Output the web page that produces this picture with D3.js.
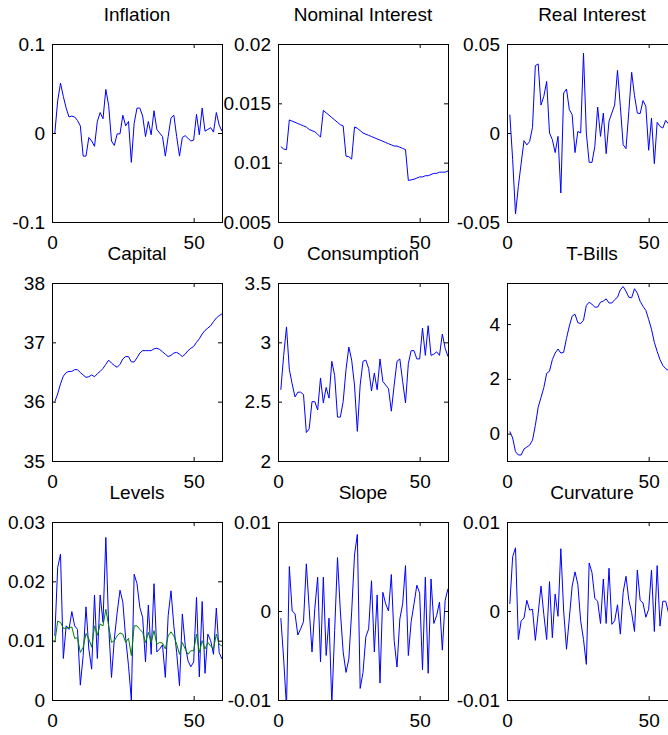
<!DOCTYPE html>
<html>
<head>
<meta charset="utf-8">
<script src="https://cdn.jsdelivr.net/npm/d3@7"></script>
<style>
body { margin: 0; background: #fff; }
</style>
</head>
<body>
<div id="chart"></div>
<script>
// time index shared by every panel
const t = d3.range(1, 61)
const xlim = [0, 60]
const xticks = [0, 50]

const inflation = [0, 0.036, 0.056, 0.041, 0.028, 0.018, 0.019, 0.018, 0.014, 0.008, -0.026, -0.026, -0.005, -0.009, -0.015, 0.013, 0.023, 0.016, 0.049, 0.031, -0.009, -0.014, -0.001, -0.001, 0.020, 0.008, 0.013, -0.033, 0.011, 0.028, 0.028, 0.019, -0.004, 0.013, -0.002, 0.025, 0.004, 0.000, -0.004, -0.026, -0.004, 0.017, 0.020, -0.004, -0.026, -0.005, -0.003, -0.006, -0.009, -0.008, 0.021, -0.002, 0.028, 0.002, 0.004, 0.006, 0.001, 0.023, 0.009, 0.002]
const nominal = [0.01135, 0.01115, 0.0111, 0.0136, 0.0135, 0.0134, 0.0133, 0.0132, 0.0131, 0.0130, 0.0128, 0.0127, 0.0126, 0.0124, 0.01215, 0.0144, 0.0142, 0.0140, 0.0138, 0.0136, 0.0134, 0.0132, 0.0131, 0.01055, 0.0105, 0.0103, 0.0130, 0.0129, 0.0127, 0.0125, 0.0124, 0.0123, 0.0122, 0.0121, 0.0120, 0.0119, 0.0118, 0.0117, 0.0116, 0.0115, 0.0114, 0.0114, 0.0113, 0.0112, 0.0111, 0.0085, 0.00855, 0.0086, 0.0087, 0.0088, 0.0088, 0.0089, 0.0089, 0.0090, 0.0091, 0.0091, 0.0092, 0.0092, 0.0092, 0.0093]
const realInterest = [0.0103, -0.015, -0.0455, -0.030, -0.017, -0.0043, -0.0067, -0.0047, 0.0032, 0.0378, 0.0388, 0.0157, 0.0206, 0.029, 0.000, -0.0037, -0.011, -0.0019, -0.0337, 0.0225, 0.0247, 0.0131, 0.0103, -0.011, 0.0009, 0.000, 0.0449, 0.000, -0.0165, -0.0165, -0.0075, 0.0146, -0.0019, 0.0112, -0.0116, 0.0066, 0.0112, 0.0157, 0.0352, 0.015, -0.0066, -0.0088, 0.0122, 0.0341, 0.021, 0.0112, 0.0109, 0.0182, 0.015, -0.0097, 0.0084, -0.0172, 0.006, 0.0037, 0.0028, 0.0071, 0.005, 0.002, 0.006, 0.004]
const capital = [36.0, 36.13, 36.30, 36.43, 36.49, 36.51, 36.51, 36.54, 36.54, 36.49, 36.45, 36.41, 36.42, 36.45, 36.42, 36.47, 36.51, 36.56, 36.63, 36.70, 36.65, 36.61, 36.58, 36.63, 36.72, 36.76, 36.76, 36.67, 36.67, 36.74, 36.82, 36.86, 36.86, 36.86, 36.86, 36.89, 36.90, 36.88, 36.84, 36.80, 36.76, 36.78, 36.82, 36.83, 36.80, 36.76, 36.80, 36.86, 36.90, 36.93, 37.00, 37.06, 37.14, 37.20, 37.24, 37.28, 37.35, 37.41, 37.45, 37.48]
const consumption = [2.60, 2.89, 3.13, 2.77, 2.65, 2.54, 2.58, 2.58, 2.56, 2.24, 2.27, 2.50, 2.50, 2.43, 2.70, 2.49, 2.62, 2.53, 2.84, 2.72, 2.37, 2.37, 2.50, 2.77, 2.96, 2.85, 2.64, 2.25, 2.64, 2.84, 2.85, 2.78, 2.59, 2.74, 2.60, 2.86, 2.67, 2.64, 2.61, 2.42, 2.64, 2.84, 2.86, 2.67, 2.49, 2.82, 2.93, 2.93, 2.86, 2.86, 3.12, 2.89, 3.14, 2.89, 2.90, 2.92, 2.89, 3.07, 2.95, 2.88]
const tbills = [0.08, -0.16, -0.66, -0.78, -0.78, -0.56, -0.49, -0.42, -0.24, 0.30, 0.96, 1.32, 1.68, 2.20, 2.28, 2.70, 2.94, 3.09, 2.94, 2.97, 3.48, 3.93, 4.29, 4.36, 4.05, 4.02, 4.14, 4.68, 4.80, 4.72, 4.62, 4.62, 4.80, 4.84, 4.92, 4.77, 4.77, 4.89, 4.98, 5.25, 5.37, 5.20, 4.98, 4.96, 5.29, 5.13, 4.83, 4.65, 4.50, 4.17, 3.81, 3.33, 3.00, 2.70, 2.49, 2.37, 2.31, 2.1, 1.9, 1.7]
const levels = [0.0108, 0.0223, 0.0246, 0.0070, 0.0125, 0.0119, 0.0149, 0.0125, 0.0119, 0.0025, 0.0075, 0.0157, 0.0086, 0.0052, 0.0177, 0.0070, 0.0177, 0.0131, 0.0274, 0.0125, 0.0038, 0.0103, 0.0147, 0.0185, 0.0165, 0.0104, 0.0058, 0.0000, 0.0212, 0.0196, 0.0156, 0.0139, 0.0064, 0.0160, 0.0077, 0.0196, 0.0081, 0.0086, 0.0093, 0.0038, 0.0142, 0.0184, 0.0125, 0.0080, 0.0024, 0.0145, 0.0093, 0.0066, 0.0056, 0.0064, 0.0173, 0.0039, 0.0166, 0.0045, 0.0111, 0.0100, 0.0077, 0.0155, 0.0080, 0.0069]
const levelsSmooth = [0.0097, 0.0133, 0.0131, 0.0121, 0.0121, 0.0122, 0.0123, 0.0104, 0.0105, 0.0080, 0.0089, 0.0112, 0.0103, 0.0089, 0.0125, 0.0109, 0.0128, 0.0125, 0.0153, 0.0125, 0.0097, 0.0100, 0.0108, 0.0113, 0.0111, 0.0097, 0.0104, 0.0075, 0.0125, 0.0125, 0.0119, 0.0114, 0.0097, 0.0114, 0.0097, 0.0117, 0.0094, 0.0097, 0.0096, 0.0086, 0.0108, 0.0115, 0.0108, 0.0094, 0.0077, 0.0097, 0.0086, 0.0077, 0.0083, 0.0083, 0.0111, 0.0080, 0.0100, 0.0086, 0.0097, 0.0091, 0.0086, 0.0111, 0.0094, 0.0091]
const slope = [-0.0008, -0.0054, -0.0108, 0.0050, 0.0000, -0.0003, -0.0027, -0.0020, -0.0012, 0.0053, 0.0003, -0.0046, 0.0003, 0.0038, -0.0057, 0.0038, -0.0050, -0.0008, -0.0105, -0.0022, 0.0060, 0.0000, -0.0046, -0.0069, -0.0054, -0.0001, 0.0063, 0.0086, -0.0087, -0.0069, -0.0029, -0.0020, 0.0034, -0.0046, 0.0018, -0.0081, 0.0021, 0.0008, 0.0000, 0.0041, -0.0033, -0.0063, -0.0009, 0.0008, 0.0051, -0.0050, -0.0012, 0.0008, 0.0029, 0.0020, -0.0066, 0.0038, -0.0070, 0.0036, -0.0014, -0.0005, 0.0010, -0.0044, 0.0012, 0.0025]
const curvature = [0.0008, 0.0061, 0.0071, -0.0032, -0.0011, -0.0008, 0.0012, 0.0001, 0.0002, -0.0033, -0.0003, 0.0028, -0.0004, -0.0032, 0.0033, -0.0030, 0.0019, -0.0006, 0.0070, 0.0000, -0.0043, -0.0008, 0.0028, 0.0044, 0.0030, -0.0011, -0.0032, -0.0060, 0.0054, 0.0043, 0.0014, 0.0011, -0.0014, 0.0036, -0.0014, 0.0048, -0.0015, -0.0011, 0.0007, -0.0026, 0.0021, 0.0039, 0.0012, -0.0002, -0.0023, 0.0046, 0.0012, 0.0009, -0.0007, 0.0002, 0.0046, -0.0023, 0.0051, -0.0017, 0.0011, 0.0011, -0.0002, 0.0010, -0.0020, 0.0015]

// y tick values per panel
const ticksInflation = [-0.1, 0, 0.1]
const ticksNominal = [0.005, 0.01, 0.015, 0.02]
const ticksReal = [-0.05, 0, 0.05]
const ticksCapital = [35, 36, 37, 38]
const ticksConsumption = [2, 2.5, 3, 3.5]
const ticksTbills = [0, 2, 4]
const ticksLevels = [0, 0.01, 0.02, 0.03]
const ticksSmall = [-0.01, 0, 0.01]

const panels = [
    {title: "Inflation", series: [inflation], ylim: [-0.1, 0.1], yticks: ticksInflation},
    {title: "Nominal Interest", series: [nominal], ylim: [0.005, 0.02], yticks: ticksNominal},
    {title: "Real Interest", series: [realInterest], ylim: [-0.05, 0.05], yticks: ticksReal},
    {title: "Capital", series: [capital], ylim: [35, 38], yticks: ticksCapital},
    {title: "Consumption", series: [consumption], ylim: [2, 3.5], yticks: ticksConsumption},
    {title: "T-Bills", series: [tbills], ylim: [-1, 5.5], yticks: ticksTbills},
    {title: "Levels", series: [levels, levelsSmooth], ylim: [0, 0.03], yticks: ticksLevels},
    {title: "Slope", series: [slope], ylim: [-0.01, 0.01], yticks: ticksSmall},
    {title: "Curvature", series: [curvature], ylim: [-0.01, 0.01], yticks: ticksSmall},
]

// layout
const width = 668
const height = 735
const col_left = [52, 278, 507]
const row_top = [44, 283, 522]
const ax_w = 170
const ax_h = 178
const colors = ["#0000ff", "#008000"]
const font = "'Liberation Sans', Arial, Helvetica, sans-serif"
const fmt = v => String(+v.toPrecision(6))

const svg = d3.select("#chart").append("svg")
    .attr("width", width)
    .attr("height", height)
    .style("background", "#fff")

panels.forEach((p, i) => {
    const g = svg.append("g")
        .attr("transform", "translate(" + col_left[i % 3] + "," + row_top[Math.floor(i / 3)] + ")")
        .attr("font-family", font)

    const x = d3.scaleLinear(xlim, [0, ax_w])
    const y = d3.scaleLinear(p.ylim, [ax_h, 0])

    g.append("clipPath").attr("id", "clip" + i)
        .append("rect").attr("width", ax_w).attr("height", ax_h)

    const line = d3.line().x((d, j) => x(t[j])).y(d => y(d))
    p.series.forEach((s, k) => {
        g.append("path")
            .datum(s)
            .attr("clip-path", "url(#clip" + i + ")")
            .attr("fill", "none")
            .attr("stroke", colors[k])
            .attr("stroke-width", 1)
            .attr("d", line)
    })

    // inward ticks on all four sides, labels only left and bottom
    const axes = [
        [d3.axisBottom(x).tickValues(xticks).tickFormat(fmt).tickPadding(14), 0, ax_h],
        [d3.axisTop(x).tickValues(xticks).tickFormat(""), 0, 0],
        [d3.axisLeft(y).tickValues(p.yticks).tickFormat(fmt).tickPadding(7), 0, 0],
        [d3.axisRight(y).tickValues(p.yticks).tickFormat(""), ax_w, 0],
    ]
    axes.forEach(([ax, tx, ty]) => {
        const a = g.append("g")
            .attr("transform", "translate(" + tx + "," + ty + ")")
            .call(ax.tickSize(-4).tickSizeOuter(0))
        a.select(".domain").remove()
        a.selectAll("text").attr("font-size", 19).attr("font-family", font).attr("fill", "#000")
    })

    g.append("rect")
        .attr("x", 0.5).attr("y", 0.5)
        .attr("width", ax_w).attr("height", ax_h)
        .attr("fill", "none")
        .attr("stroke", "#000")

    g.append("text")
        .attr("x", ax_w / 2)
        .attr("y", -23)
        .attr("text-anchor", "middle")
        .attr("font-size", 19)
        .text(p.title)
})
</script>
</body>
</html>
